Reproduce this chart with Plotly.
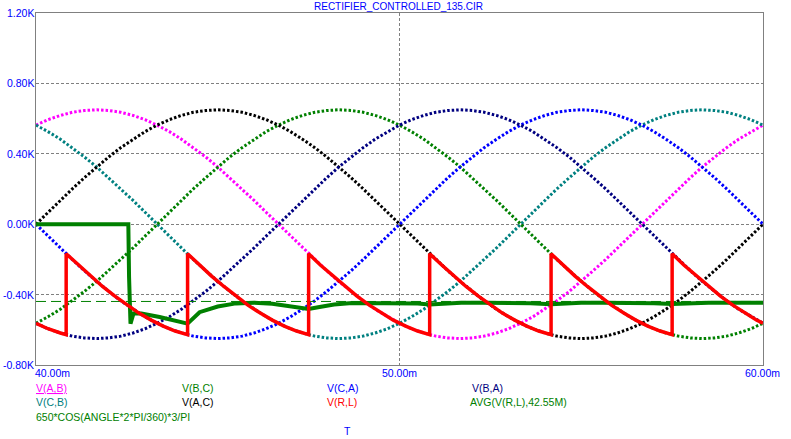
import plotly.graph_objects as go

# ---------------- data ----------------
TITLE = "RECTIFIER_CONTROLLED_135.CIR"

# time axis, ms
T_MS = [40.00, 40.33, 40.67, 41.00, 41.33, 41.67, 42.00, 42.33, 42.67, 43.00,
        43.33, 43.67, 44.00, 44.33, 44.67, 45.00, 45.33, 45.67, 46.00, 46.33,
        46.67, 47.00, 47.33, 47.67, 48.00, 48.33, 48.67, 49.00, 49.33, 49.67,
        50.00, 50.33, 50.67, 51.00, 51.33, 51.67, 52.00, 52.33, 52.67, 53.00,
        53.33, 53.67, 54.00, 54.33, 54.67, 55.00, 55.33, 55.67, 56.00, 56.33,
        56.67, 57.00, 57.33, 57.67, 58.00, 58.33, 58.67, 59.00, 59.33, 59.67,
        60.00]

# line-to-line voltages, V
V_AB = [563, 594, 618, 636, 646, 650, 646, 636, 618, 594, 563, 526, 483, 435, 382, 325, 264, 201, 135, 68,
        0, -68, -135, -201, -264, -325, -382, -435, -483, -526, -563, -594, -618, -636, -646, -650, -646, -636, -618, -594,
        -563, -526, -483, -435, -382, -325, -264, -201, -135, -68, 0, 68, 135, 201, 264, 325, 382, 435, 483, 526, 563]
V_CB = [563, 526, 483, 435, 382, 325, 264, 201, 135, 68, 0, -68, -135, -201, -264, -325, -382, -435, -483, -526,
        -563, -594, -618, -636, -646, -650, -646, -636, -618, -594, -563, -526, -483, -435, -382, -325, -264, -201, -135, -68,
        0, 68, 135, 201, 264, 325, 382, 435, 483, 526, 563, 594, 618, 636, 646, 650, 646, 636, 618, 594, 563]
V_AC = [0, 68, 135, 201, 264, 325, 382, 435, 483, 526, 563, 594, 618, 636, 646, 650, 646, 636, 618, 594,
        563, 526, 483, 435, 382, 325, 264, 201, 135, 68, 0, -68, -135, -201, -264, -325, -382, -435, -483, -526,
        -563, -594, -618, -636, -646, -650, -646, -636, -618, -594, -563, -526, -483, -435, -382, -325, -264, -201, -135, -68, 0]
V_CA = [0, -68, -135, -201, -264, -325, -382, -435, -483, -526, -563, -594, -618, -636, -646, -650, -646, -636, -618, -594,
        -563, -526, -483, -435, -382, -325, -264, -201, -135, -68, 0, 68, 135, 201, 264, 325, 382, 435, 483, 526,
        563, 594, 618, 636, 646, 650, 646, 636, 618, 594, 563, 526, 483, 435, 382, 325, 264, 201, 135, 68, 0]
V_BA = [-563, -594, -618, -636, -646, -650, -646, -636, -618, -594, -563, -526, -483, -435, -382, -325, -264, -201, -135, -68,
        0, 68, 135, 201, 264, 325, 382, 435, 483, 526, 563, 594, 618, 636, 646, 650, 646, 636, 618, 594,
        563, 526, 483, 435, 382, 325, 264, 201, 135, 68, 0, -68, -135, -201, -264, -325, -382, -435, -483, -526, -563]
V_BC = [-563, -526, -483, -435, -382, -325, -264, -201, -135, -68, 0, 68, 135, 201, 264, 325, 382, 435, 483, 526,
        563, 594, 618, 636, 646, 650, 646, 636, 618, 594, 563, 526, 483, 435, 382, 325, 264, 201, 135, 68,
        0, -68, -135, -201, -264, -325, -382, -435, -483, -526, -563, -594, -618, -636, -646, -650, -646, -636, -618, -594, -563]

# rectifier output V(R,L)
RED_T = [40.00, 40.33, 40.67, 40.83,
         40.83, 41.17, 41.50, 41.83, 42.17, 42.50, 42.83, 43.17, 43.50, 43.83, 44.17,
         44.17, 44.50, 44.83, 45.17, 45.50, 45.83, 46.17, 46.50, 46.83, 47.17, 47.50,
         47.50, 47.83, 48.17, 48.50, 48.83, 49.17, 49.50, 49.83, 50.17, 50.50, 50.83,
         50.83, 51.17, 51.50, 51.83, 52.17, 52.50, 52.83, 53.17, 53.50, 53.83, 54.17,
         54.17, 54.50, 54.83, 55.17, 55.50, 55.83, 56.17, 56.50, 56.83, 57.17, 57.50,
         57.50, 57.83, 58.17, 58.50, 58.83, 59.17, 59.50, 59.83, 60.00]
RED_V = [-563, -594, -618, -628,
         -168, -233, -295, -354, -409, -460, -505, -545, -579, -607, -628,
         -168, -233, -295, -354, -409, -460, -505, -545, -579, -607, -628,
         -168, -233, -295, -354, -409, -460, -505, -545, -579, -607, -628,
         -168, -233, -295, -354, -409, -460, -505, -545, -579, -607, -628,
         -168, -233, -295, -354, -409, -460, -505, -545, -579, -607, -628,
         -168, -233, -295, -354, -409, -460, -505, -545, -563]

# AVG(V(R,L),42.55M)
AVG_T = [40.00, 42.54, 42.56, 42.60, 42.68, 42.90, 43.40, 43.80, 44.17, 44.50,
         45.00, 45.50, 46.00, 46.50, 47.00, 47.50, 47.80, 48.20, 48.70, 49.30,
         50.00, 50.50, 50.83, 51.20, 51.70, 52.30, 53.00, 53.60, 54.17, 54.50,
         55.00, 55.60, 56.30, 57.00, 57.50, 57.90, 58.50, 59.20, 60.00]
AVG_V = [0, 0, -300, -565, -508, -508, -527, -545, -565, -500,
         -468, -450, -446, -452, -466, -482, -470, -456, -448, -447,
         -447, -450, -456, -452, -447, -446, -447, -449, -455, -450,
         -447, -446, -446, -449, -454, -450, -447, -446, -447]

# 650*COS(ANGLE*2*PI/360)*3/PI  (ANGLE = 135)
COS_T = [40.00, 60.00]
COS_V = [-439, -439]

X_TICKS = [40, 50, 60]
X_TICK_LABELS = ["40.00m", "50.00m", "60.00m"]
Y_TICKS = [-800, -400, 0, 400, 800, 1200]
Y_TICK_LABELS = ["-0.80K", "-0.40K", "0.00K", "0.40K", "0.80K", "1.20K"]
X_TITLE = "T"

SINE_SERIES = [
    ("V(A,B)", V_AB, "#FF00FF"),
    ("V(C,B)", V_CB, "#008080"),
    ("V(B,C)", V_BC, "#008000"),
    ("V(A,C)", V_AC, "#000000"),
    ("V(C,A)", V_CA, "#0000FF"),
    ("V(B,A)", V_BA, "#000080"),
]
LEGEND_ENTRIES = [
    ("<u>V(A,B)</u>", "#FF00FF"), ("V(B,C)", "#008000"), ("V(C,A)", "#0000FF"), ("V(B,A)", "#000080"),
    ("V(C,B)", "#008080"), ("V(A,C)", "#000000"), ("V(R,L)", "#FF0000"), ("AVG(V(R,L),42.55M)", "#008000"),
    ("650*COS(ANGLE*2*PI/360)*3/PI", "#008000"),
]

# ---------------- layout geometry ----------------
W, H = 791, 439
L, R, T, B = 36, 28, 13, 74
PW, PH = W - L - R, H - T - B
FONT = "Liberation Sans, Arial, sans-serif"
FS = 10.5


def px(x):
    return (x - L) / PW


def py(y):
    return (H - B - y) / PH


fig = go.Figure()
for name, vals, col in SINE_SERIES:
    fig.add_trace(go.Scatter(x=T_MS, y=vals, mode="lines", name=name,
                             line=dict(color=col, width=3, dash="2.5px,2px")))
fig.add_trace(go.Scatter(x=COS_T, y=COS_V, mode="lines", name="cos",
                         line=dict(color="#008000", width=1, dash="10px,5px")))
fig.add_trace(go.Scatter(x=AVG_T, y=AVG_V, mode="lines", name="avg",
                         line=dict(color="#008000", width=4)))
fig.add_trace(go.Scatter(x=RED_T, y=RED_V, mode="lines", name="V(R,L)",
                         line=dict(color="#FF0000", width=3.5)))

ann = []
ann.append(dict(text=TITLE, x=px(398.5), y=py(6.5), xref="paper", yref="paper",
                xanchor="center", yanchor="middle", showarrow=False,
                font=dict(color="#0000FF", size=10, family=FONT)))
for v, lab in zip(Y_TICKS, Y_TICK_LABELS):
    ann.append(dict(text=lab, x=px(33.5), y=v, xref="paper", yref="y",
                    xanchor="right", yanchor="middle", showarrow=False,
                    font=dict(color="#0000FF", size=FS, family=FONT)))
xlab_pos = [("left", 35), ("center", 399), ("center", 762.5)]
for v, lab, (anc, xp) in zip(X_TICKS, X_TICK_LABELS, xlab_pos):
    ann.append(dict(text=lab, x=px(xp), y=py(372.5), xref="paper", yref="paper",
                    xanchor=anc, yanchor="middle", showarrow=False,
                    font=dict(color="#0000FF", size=FS, family=FONT)))
leg_pos = [(36, 387.5), (182, 387.5), (327, 387.5), (472, 387.5),
           (36, 402), (182, 402), (327, 402), (470, 402),
           (36, 416.5)]
for (txt, col), (xp, yp) in zip(LEGEND_ENTRIES, leg_pos):
    ann.append(dict(text=txt, x=px(xp), y=py(yp), xref="paper", yref="paper",
                    xanchor="left", yanchor="middle", showarrow=False,
                    font=dict(color=col, size=FS, family=FONT)))
ann.append(dict(text=X_TITLE, x=px(347), y=py(430.5), xref="paper", yref="paper",
                xanchor="center", yanchor="middle", showarrow=False,
                font=dict(color="#0000FF", size=FS, family=FONT)))
for a in ann:
    a["borderpad"] = 0
    a["borderwidth"] = 0

axis_common = dict(showgrid=True, gridcolor="#808080", gridwidth=1, griddash="3px,2px",
                   showline=True, linecolor="#808080", linewidth=1, mirror=True,
                   zeroline=False, ticks="", showticklabels=False)
fig.update_layout(
    width=W, height=H, autosize=False,
    margin=dict(l=L, r=R, t=T, b=B, pad=0),
    paper_bgcolor="white", plot_bgcolor="white",
    showlegend=False,
    xaxis=dict(range=[40, 60], tickvals=X_TICKS, **axis_common),
    yaxis=dict(range=[-800, 1200], tickvals=Y_TICKS, **axis_common),
    annotations=ann,
)
fig.write_html("out.html", config={"displayModeBar": False})
